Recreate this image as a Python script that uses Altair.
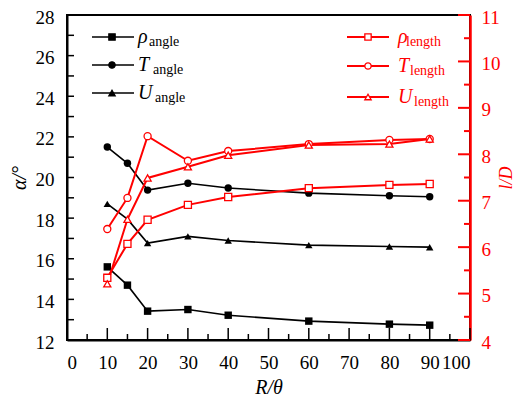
import altair as alt
import pandas as pd

R = [10, 15, 20, 30, 40, 60, 80, 90]
rho_angle = [15.6, 14.7, 13.42, 13.5, 13.22, 12.93, 12.78, 12.73]
T_angle = [21.5, 20.7, 19.38, 19.72, 19.48, 19.23, 19.1, 19.05]
U_angle = [18.7, 17.95, 16.77, 17.1, 16.9, 16.67, 16.6, 16.57]
rho_length = [5.34, 6.07, 6.59, 6.91, 7.08, 7.27, 7.34, 7.36]
T_length = [6.39, 7.06, 8.39, 7.86, 8.07, 8.22, 8.31, 8.33]
U_length = [5.21, 6.6, 7.49, 7.73, 7.98, 8.2, 8.22, 8.33]

x_major = list(range(0, 101, 10))
x_minor = list(range(5, 100, 10))
yl_ticks = list(range(12, 29, 1))
yl_labels = list(range(12, 29, 2))
yr_major = list(range(4, 12, 1))
yr_minor = [4.5, 5.5, 6.5, 7.5, 8.5, 9.5, 10.5]

W, H = 403, 325
FONT = "Liberation Serif"
RED = "#ff0000"

angle_df = pd.DataFrame({
    "R": R * 3,
    "value": rho_angle + T_angle + U_angle,
    "series": ["rho"] * 8 + ["T"] * 8 + ["U"] * 8,
})
length_df = pd.DataFrame({
    "R": R * 3,
    "value": rho_length + T_length + U_length,
    "series": ["rho"] * 8 + ["T"] * 8 + ["U"] * 8,
})

xs = alt.Scale(domain=[0, 100], nice=False, zero=False)
yls = alt.Scale(domain=[12, 28], nice=False, zero=False)
yrs = alt.Scale(domain=[4, 11], nice=False, zero=False)
shape_scale = alt.Scale(domain=["rho", "T", "U"], range=["square", "circle", "triangle-up"])

x_axis = alt.Axis(values=x_major, ticks=False, grid=False, labelPadding=13,
                  title="R/θ", titleFontStyle="italic", titlePadding=5,
                  domainColor="black", domainWidth=2)
yl_axis = alt.Axis(values=yl_labels, ticks=False, grid=False, labelPadding=13, labelOffset=2,
                   title="α/°", titleFontStyle="italic", titlePadding=6,
                   domainColor="black", domainWidth=2)
yr_axis = alt.Axis(values=yr_major, ticks=False, grid=False, labelPadding=11, labelOffset=2,
                   orient="right",
                   title="l/D", titleFontStyle="italic", titleFontSize=18,
                   titleX=36, titleY=H / 2, titleAngle=270, titleAlign="center",
                   titleBaseline="middle",
                   domainColor=RED, domainWidth=2.5, labelColor=RED, titleColor=RED)

# left group
a_line = alt.Chart(angle_df).mark_line(color="black", strokeWidth=1.6).encode(
    x=alt.X("R:Q", scale=xs, axis=x_axis),
    y=alt.Y("value:Q", scale=yls, axis=yl_axis),
    detail="series:N",
)
a_pts = alt.Chart(angle_df).mark_point(filled=True, color="black", opacity=1, size=55).encode(
    x=alt.X("R:Q", scale=xs),
    y=alt.Y("value:Q", scale=yls),
    shape=alt.Shape("series:N", scale=shape_scale, legend=None),
)
xt_major = alt.Chart(pd.DataFrame({"R": x_major})).mark_rule(color="black", strokeWidth=1.5).encode(
    x=alt.X("R:Q", scale=xs), y=alt.value(H), y2=alt.value(H - 12))
xt_minor = alt.Chart(pd.DataFrame({"R": x_minor})).mark_rule(color="black", strokeWidth=1.5).encode(
    x=alt.X("R:Q", scale=xs), y=alt.value(H), y2=alt.value(H - 6))
ylt = alt.Chart(pd.DataFrame({"value": yl_ticks})).mark_rule(color="black", strokeWidth=1.5).encode(
    y=alt.Y("value:Q", scale=yls), x=alt.value(0), x2=alt.value(7))

left = alt.layer(a_line, xt_major, xt_minor, ylt, a_pts)

# right group
l_line = alt.Chart(length_df).mark_line(color=RED, strokeWidth=2).encode(
    x=alt.X("R:Q", scale=xs),
    y=alt.Y("value:Q", scale=yrs, axis=yr_axis),
    detail="series:N",
)
l_pts = alt.Chart(length_df).mark_point(filled=True, fill="white", stroke=RED, strokeWidth=1.3,
                                        opacity=1, size=50).encode(
    x=alt.X("R:Q", scale=xs),
    y=alt.Y("value:Q", scale=yrs),
    shape=alt.Shape("series:N", scale=shape_scale, legend=None),
)
yrt_major = alt.Chart(pd.DataFrame({"value": yr_major})).mark_rule(color=RED, strokeWidth=2).encode(
    y=alt.Y("value:Q", scale=yrs), x=alt.value(W), x2=alt.value(W - 12))
yrt_minor = alt.Chart(pd.DataFrame({"value": yr_minor})).mark_rule(color=RED, strokeWidth=2).encode(
    y=alt.Y("value:Q", scale=yrs), x=alt.value(W), x2=alt.value(W - 6))

right = alt.layer(l_line, yrt_major, yrt_minor, l_pts)

# manual legends
one = pd.DataFrame({"k": [0]})
legend_layers = []
left_items = [("ρ", "angle", "square", 22, 82), ("T", "angle", "circle", 50, 86), ("U", "angle", "triangle-up", 78, 88)]
right_items = [("ρ", "length", "square", 22, 339), ("T", "length", "circle", 51, 343), ("U", "length", "triangle-up", 82, 347)]
for items, x1, x2, xm, xt, col, fill in [
    (left_items, 25, 67, 45, 71, "black", "black"),
    (right_items, 280, 322, 301, 331, RED, "white"),
]:
    for main, sub, shp, yy, xs_sub in items:
        legend_layers.append(alt.Chart(one).mark_rule(color=col, strokeWidth=2 if col == RED else 1.6).encode(
            x=alt.value(x1), x2=alt.value(x2), y=alt.value(yy)))
        legend_layers.append(alt.Chart(one).mark_point(shape=shp, filled=True, fill=fill, stroke=col,
                                                       strokeWidth=1.3, opacity=1, size=40).encode(
            x=alt.value(xm), y=alt.value(yy)))
        legend_layers.append(alt.Chart(one).mark_text(text=main, font=FONT, fontSize=20, fontStyle="italic",
                                                      color=col, align="left", baseline="middle").encode(
            x=alt.value(xt), y=alt.value(yy)))
        legend_layers.append(alt.Chart(one).mark_text(text=sub, font=FONT, fontSize=14,
                                                      color=col, align="left", baseline="middle").encode(
            x=alt.value(xs_sub), y=alt.value(yy + 5)))

legend = alt.layer(*legend_layers)

chart = alt.layer(left, right, legend).resolve_scale(y="independent").properties(
    width=W, height=H,
    padding={"left": 59, "top": 7, "right": 45, "bottom": 60},
    autosize=alt.AutoSizeParams(type="none"),
).configure_view(
    stroke="black", strokeWidth=2
).configure_axis(
    labelFont=FONT, labelFontSize=19, titleFont=FONT, titleFontSize=20,
    labelColor="black", titleColor="black", titleFontWeight="normal",
)

chart.save("out.html", embed_options={"renderer": "svg", "actions": False})
